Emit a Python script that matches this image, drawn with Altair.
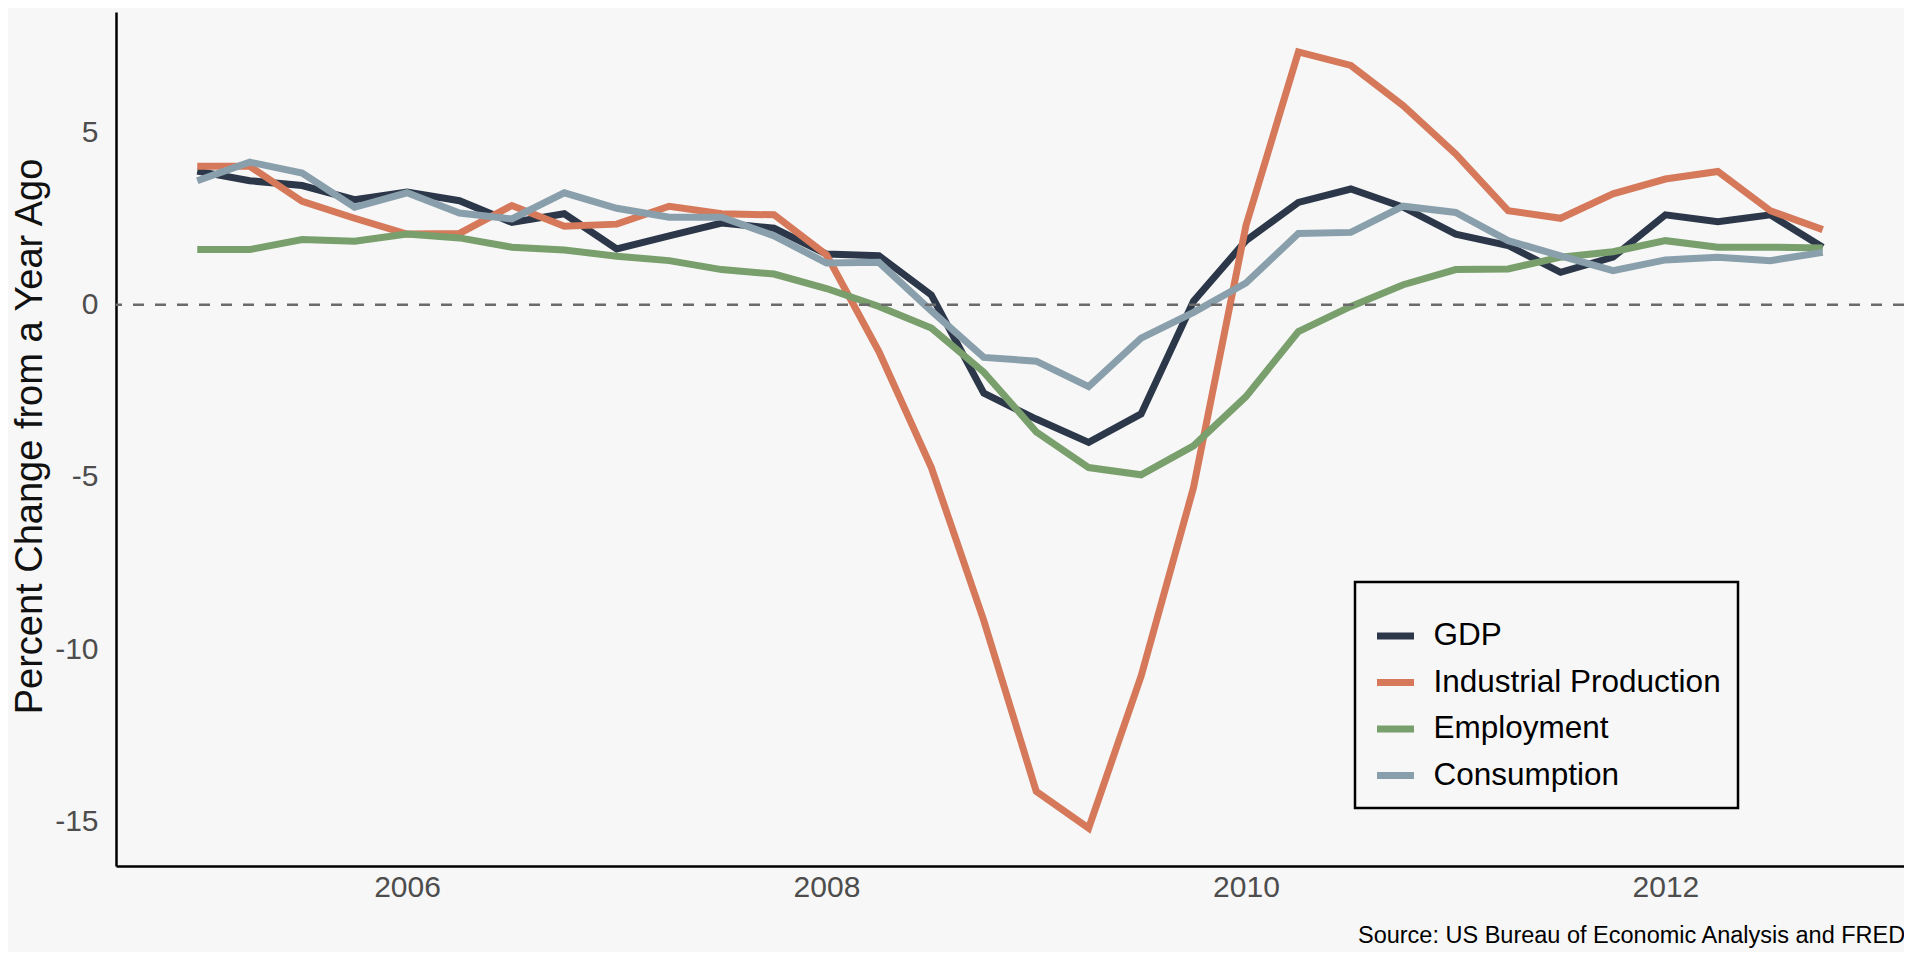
import altair as alt
import pandas as pd

# Quarterly observations, 2005Q1 .. 2012Q4
dates = [f"{y}-{m:02d}-01" for y in range(2005, 2013) for m in (1, 4, 7, 10)]

gdp = [3.88, 3.60, 3.46, 3.05, 3.27, 3.02, 2.39, 2.64, 1.62, 2.00, 2.37, 2.22,
       1.47, 1.42, 0.28, -2.57, -3.32, -4.00, -3.17, 0.10, 1.86, 2.97, 3.36, 2.83,
       2.05, 1.72, 0.94, 1.38, 2.61, 2.41, 2.61, 1.67]
ip = [4.02, 4.02, 3.00, 2.51, 2.05, 2.07, 2.88, 2.28, 2.34, 2.86, 2.64, 2.61,
      1.45, -1.36, -4.73, -9.17, -14.13, -15.20, -10.79, -5.31, 2.30, 7.34, 6.95, 5.78,
      4.38, 2.73, 2.51, 3.22, 3.65, 3.87, 2.73, 2.18]
emp = [1.60, 1.60, 1.89, 1.84, 2.05, 1.94, 1.67, 1.59, 1.41, 1.28, 1.02, 0.89,
       0.47, -0.05, -0.68, -1.96, -3.69, -4.73, -4.94, -4.10, -2.67, -0.78, -0.05, 0.58,
       1.02, 1.04, 1.38, 1.54, 1.86, 1.67, 1.67, 1.65]
cons = [3.60, 4.14, 3.82, 2.83, 3.25, 2.66, 2.49, 3.25, 2.80, 2.54, 2.54, 2.00,
        1.21, 1.23, -0.18, -1.53, -1.64, -2.38, -0.97, -0.22, 0.63, 2.07, 2.10, 2.86,
        2.68, 1.86, 1.42, 0.99, 1.30, 1.38, 1.28, 1.52]

series_names = ["GDP", "Industrial Production", "Employment", "Consumption"]
series_values = [gdp, ip, emp, cons]
colors = ["#2C384A", "#D5795A", "#799F6C", "#89A0AC"]

rows = []
for name, vals in zip(series_names, series_values):
    for d, v in zip(dates, vals):
        y, m = int(d[:4]), int(d[5:7])
        rows.append({"t": y + (m - 1) / 12.0, "series": name, "value": v})
df = pd.DataFrame(rows)
zero_df = pd.DataFrame({"value": [0.0]})

FONT = "Liberation Sans"
x_dom = [2004.6125, 2013.1375]
y_dom = [-16.3, 8.5]

lines = alt.Chart(df).mark_line(strokeWidth=7).encode(
    x=alt.X("t:Q",
            scale=alt.Scale(domain=x_dom, nice=False, zero=False),
            axis=alt.Axis(values=[2006, 2008, 2010, 2012], format="d", ticks=False,
                          tickSize=0, grid=False, domainColor="black", domainWidth=2.5,
                          labelFontSize=30, labelColor="#4d4d4d", labelPadding=6,
                          labelFont=FONT, title=None)),
    y=alt.Y("value:Q",
            scale=alt.Scale(domain=y_dom, nice=False, zero=False),
            axis=alt.Axis(values=[-15, -10, -5, 0, 5],
                          labelExpr="replace(datum.label, '\u2212', '-')",
                          ticks=False, tickSize=0, grid=False, domainColor="black",
                          domainWidth=2.5, labelFontSize=30, labelColor="#4d4d4d",
                          labelPadding=18, labelFont=FONT,
                          title="Percent Change from a Year Ago", titleFontSize=38,
                          titleFontWeight="normal", titleColor="#111111",
                          titleFont=FONT, titleAngle=270, titleX=-86, titleY=424,
                          titleAlign="center", titleBaseline="middle")),
    color=alt.Color("series:N",
                    scale=alt.Scale(domain=series_names, range=colors),
                    legend=alt.Legend(orient="none", legendX=1239, legendY=570,
                                      title=" ", titleFontSize=10, titlePadding=5,
                                      symbolType="stroke", symbolOffset=1.5,
                                      symbolStrokeWidth=7, symbolSize=1369,
                                      labelFontSize=31.5, labelColor="black",
                                      labelFont=FONT, labelOffset=16, labelLimit=400,
                                      padding=17, rowPadding=8.5,
                                      strokeColor="black", fillColor="#f7f7f7")),
)

zero = alt.Chart(zero_df).mark_rule(color="#6b6b6b", strokeWidth=2.5,
                                    strokeDash=[11, 11]).encode(
    y=alt.Y("value:Q", scale=alt.Scale(domain=y_dom, nice=False, zero=False))
)

chart = alt.layer(lines, zero).properties(
    width=1788,
    height=854,
    padding={"left": 108, "top": 4, "right": 0, "bottom": 86},
    autosize=alt.AutoSizeParams(type="none"),
    title=alt.TitleParams(text="Source: US Bureau of Economic Analysis and FRED",
                          orient="bottom", anchor="end", fontSize=23.5,
                          fontWeight="normal", color="black", font=FONT, offset=22),
).configure(
    background="#f7f7f7", font=FONT
).configure_view(
    stroke="transparent"
).configure_legend(
    strokeWidth=2.5, cornerRadius=0
)

chart.save("out.html", embed_options={"renderer": "svg", "actions": False})
